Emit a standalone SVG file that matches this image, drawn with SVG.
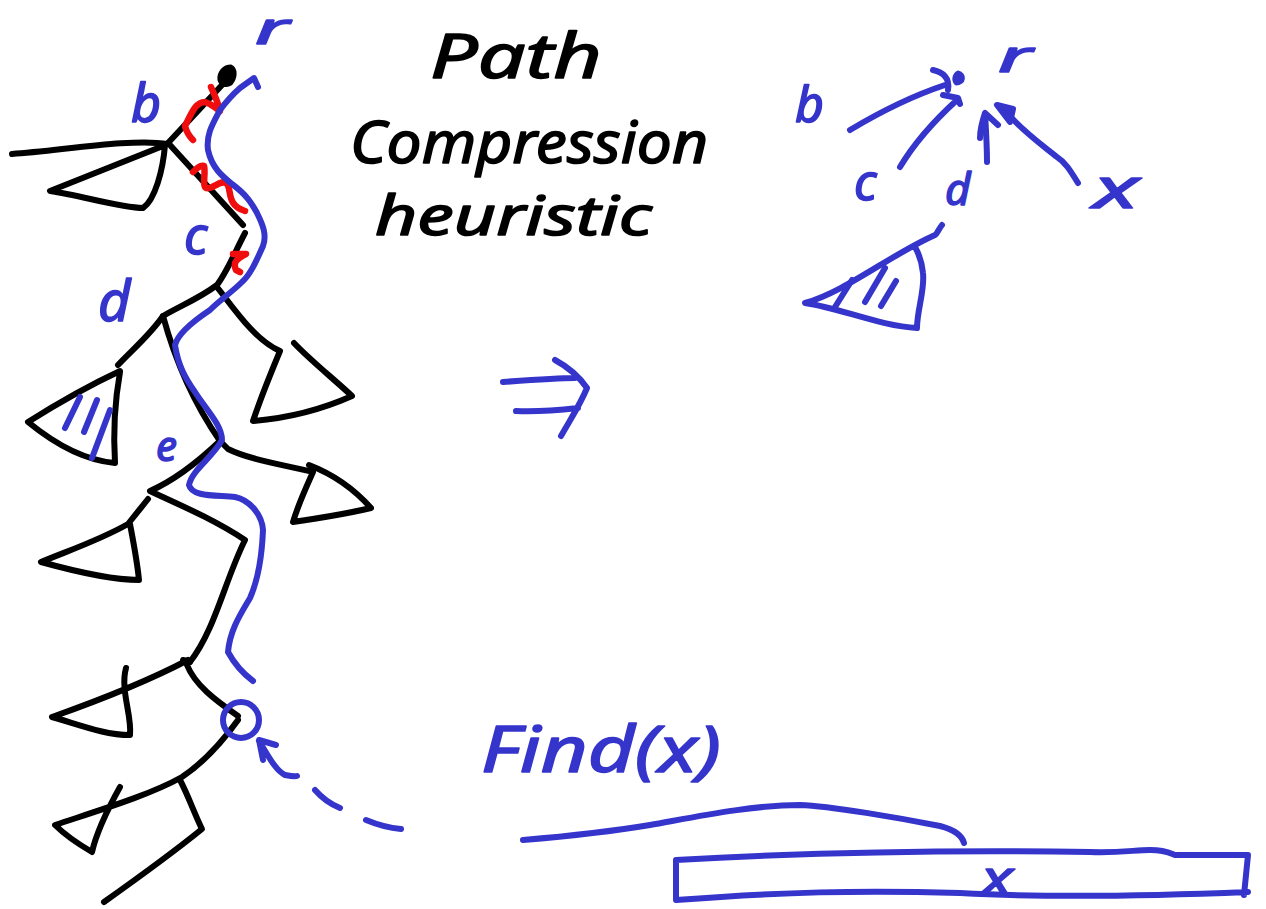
<svg xmlns="http://www.w3.org/2000/svg" width="1266" height="909" viewBox="0 0 1266 909">
<style>
path,circle{fill:none;stroke-linecap:round;stroke-linejoin:round}
.k{stroke:#000;stroke-width:6}
.b{stroke:#3535cc;stroke-width:6}
.r{stroke:#f00d0d;stroke-width:6.5}
text{font-family:"Noto Sans","Liberation Sans",sans-serif;font-style:italic;stroke-linejoin:round;stroke-linecap:round}
.tk{fill:#000;stroke:#000;stroke-width:1.5}
.tb{fill:#3535cc;stroke:#3535cc;stroke-width:1.5}
.f{fill:#3535cc}
</style>
<rect width="1266" height="909" fill="#fff"/>
<g id="tree">
<path class="k" d="M222 85L196 113L168 143"/>
<path d="M219 80C218 72 224 66 231 66C237 69 236 78 231 84C226 87 220 85 219 80Z" style="fill:#000" stroke="#000" stroke-width="3"/>
<path class="k" d="M12 154C60 151 130 138 168 144L50 191C80 195 120 208 143 208C155 200 163 170 165 145"/>
<path class="k" d="M170 145L243 225"/>
<path class="k" d="M245 233C235 252 227 272 217 285C200 298 180 306 163 316C150 335 132 350 118 365"/>
<path class="k" d="M120 371C90 385 55 405 28 422C50 440 80 460 115 463C113 430 115 400 120 372"/>
<path class="k" d="M217 287C235 310 255 340 280 351C270 375 260 400 253 421C290 418 325 408 352 396C335 380 310 360 294 343"/>
<path class="k" d="M163 316C175 360 195 405 220 441C200 460 175 480 150 491C180 505 215 520 245 540C225 580 215 630 190 662"/>
<path class="k" d="M220 441L228 449C250 460 285 465 313 472C305 490 298 505 293 522C320 518 345 514 371 508C355 490 335 475 309 465"/>
<path class="k" d="M148 499L128 524C100 540 70 550 41 562C70 570 110 580 139 580C137 560 133 540 130 524"/>
<path class="k" d="M188 660C150 680 100 700 52 717C80 725 105 735 130 735C132 715 120 690 126 668"/>
<path class="k" d="M183 660L190 662M187 665C195 685 215 700 238 716"/>
<path class="k" d="M238 720C220 745 200 765 182 777C150 795 100 810 55 825C65 835 80 845 92 852C97 830 110 805 120 787"/>
<path class="k" d="M180 780C188 795 195 815 202 829C170 855 135 880 104 902"/>
<path class="r" d="M193 140C188 135 186 130 185 126C192 112 196 102 205 102C212 104 215 108 220 111C218 102 214 94 211 87"/>
<path class="r" d="M193 172C197 168 200 165 204 166C206 172 202 185 206 188C212 190 222 178 227 184C232 190 226 205 245 211"/>
<path class="r" d="M233 254L246 254C238 258 232 262 236 270L240 272"/>
<path class="b" d="M258 87L254 78L240 88C232 95 226 102 220 110C212 125 206 135 208 150C212 168 222 176 232 184C248 196 252 204 257 213C263 225 267 235 263 246C256 262 250 275 242 282C232 292 220 300 210 310C195 320 178 333 175 345C178 365 185 378 195 392C205 408 222 425 222 440C212 458 192 470 189 485C192 497 215 495 235 497C250 500 262 515 263 530C262 555 258 580 250 598C240 615 230 630 228 652C235 665 245 675 253 681"/>
<path class="b" d="M65 428L80 397M84 432L97 400M92 458L110 410"/>
<circle class="b" cx="241" cy="720" r="18"/>
<path class="b" d="M276 745L259 740L263 760M259 741C268 755 275 770 285 775C290 776 294 777 297 776M315 790C322 798 330 804 340 808M366 820C378 825 390 828 401 829"/>
</g>
<g id="title">
<text class="tk" x="430" y="78" font-size="62" textLength="172" lengthAdjust="spacingAndGlyphs">Path</text>
<text class="tk" x="350" y="163" font-size="58" textLength="358" lengthAdjust="spacingAndGlyphs">Compression</text>
<text class="tk" x="375" y="235" font-size="54" textLength="277" lengthAdjust="spacingAndGlyphs">heuristic</text>
</g>
<g id="left-labels">
<text class="tb" x="255" y="44" font-size="44" textLength="34" lengthAdjust="spacingAndGlyphs">r</text>
<text class="tb" x="131" y="122" font-size="52">b</text>
<text class="tb" x="184" y="254" font-size="52">c</text>
<text class="tb" x="98" y="321" font-size="56">d</text>
<text class="tb" x="156" y="461" font-size="42">e</text>
</g>
<g id="implies"><path class="b" d="M503 382C530 380 560 378 575 378M555 360C570 368 580 378 587 388C580 405 570 420 561 436M516 411C535 412 560 410 578 408"/></g>
<g id="compressed">
<text class="tb" x="998" y="72" font-size="44" textLength="34" lengthAdjust="spacingAndGlyphs">r</text>
<text class="tb" x="795" y="122" font-size="50">b</text>
<text class="tb" x="854" y="200" font-size="50">c</text>
<text class="tb" x="945" y="205" font-size="44">d</text>
<text class="tb" x="1093" y="208" font-size="56" textLength="46" lengthAdjust="spacingAndGlyphs">x</text>
<path class="b" d="M850 130C880 112 915 95 945 85M933 70C943 72 950 78 948 90"/>
<path class="f" d="M958 72C966 74 965 84 956 84C952 80 954 74 958 72Z" stroke="#3535cc" stroke-width="3"/>
<path class="b" d="M900 167C915 142 935 120 957 100M943 95L958 98L960 104"/>
<path class="b" d="M987 162C987 145 986 130 985 113C982 122 980 130 980 138M985 113L998 125"/>
<path class="b" d="M1078 183C1070 170 1065 162 1057 157C1045 147 1020 130 1003 108"/>
<path class="b f" d="M997 105L1013 109L1010 122Z" style="fill:#3535cc"/>
<path class="b" d="M942 225C938 230 937 234 935 235C890 255 845 292 805 303C840 308 880 326 917 328C917 310 925 290 923 273C922 262 919 254 915 247"/>
<path class="b" d="M852 280L835 307M885 268L865 302M896 281L881 306"/>
</g>
<g id="array">
<text class="tb" x="481" y="772" font-size="64" textLength="240" lengthAdjust="spacingAndGlyphs">Find(x)</text>
<path class="b" d="M523 840C570 836 620 830 650 825C690 818 750 805 800 805C830 806 900 818 940 826C955 830 962 835 964 843"/>
<path class="b" d="M676 900L676 860C800 853 950 850 1090 852C1120 853 1135 850 1150 850C1165 850 1170 853 1175 855L1248 855L1244 895M676 900C780 892 860 890 960 893C1050 898 1150 896 1248 892"/>
<text class="tb" x="981" y="895" font-size="48" textLength="32" lengthAdjust="spacingAndGlyphs">x</text>
</g>
</svg>
